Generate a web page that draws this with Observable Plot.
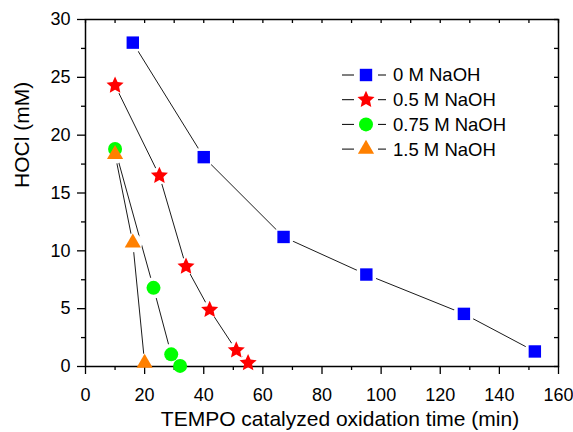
<!DOCTYPE html>
<html>
<head>
<meta charset="utf-8">
<script src="https://cdn.jsdelivr.net/npm/d3@7"></script>
<script src="https://cdn.jsdelivr.net/npm/@observablehq/plot@0.6"></script>
<style>
  html, body { margin: 0; padding: 0; background: #fff; }
  #wrap { position: relative; width: 573px; height: 432px; font-family: "Liberation Sans", Arial, sans-serif; }
  #legend { position: absolute; left: 0; top: 0; pointer-events: none; }
</style>
</head>
<body>
<div id="wrap"></div>
<script>
// ---- data ----
const seriesNames = ["0 M NaOH", "0.5 M NaOH", "0.75 M NaOH", "1.5 M NaOH"];
const time0   = [16, 40, 67, 95, 128, 152];
const hocl0   = [28.0, 18.1, 11.2, 7.95, 4.55, 1.3];
const time05  = [10, 25, 34, 42, 51, 55];
const hocl05  = [24.3, 16.5, 8.65, 4.9, 1.4, 0.3];
const time075 = [10, 23, 29, 32];
const hocl075 = [18.8, 6.8, 1.05, 0.05];
const time15  = [10, 16, 20];
const hocl15  = [18.35, 10.7, 0.3];
const xMajorTicks = [0, 20, 40, 60, 80, 100, 120, 140, 160];
const xMinorTicks = [10, 30, 50, 70, 90, 110, 130, 150];
const yMajorTicks = [0, 5, 10, 15, 20, 25, 30];
const yMinorTicks = [2.5, 7.5, 12.5, 17.5, 22.5, 27.5];
const xLabel = "TEMPO catalyzed oxidation time (min)";
const yLabel = "HOCl (mM)";

// ---- styles ----
const colors  = ["#0000ff", "#ff0000", "#00ff00", "#ff8000"];
const radii   = [7, 5.2, 7, 6];

// fatter five-pointed star (Origin style)
const fatStar = {
  draw(context, size) {
    const R = Math.sqrt(size / Math.PI) * 1.73, rin = R * 0.47;
    for (let k = 0; k < 10; ++k) {
      const a = -Math.PI / 2 + k * Math.PI / 5, rr = k % 2 ? rin : R;
      const px = rr * Math.cos(a), py = rr * Math.sin(a);
      k ? context.lineTo(px, py) : context.moveTo(px, py);
    }
    context.closePath();
  }
};
const symbols = [d3.symbolSquare, fatStar, d3.symbolCircle, d3.symbolTriangle];

const W = 573, H = 432, mL = 85, mR = 15, mT = 19, mB = 66;
const frameW = W - mL - mR, frameH = H - mT - mB;

const allTimes = [time0, time05, time075, time15];
const allHocl  = [hocl0, hocl05, hocl075, hocl15];
const rows = [];
seriesNames.forEach((s, i) => {
  allTimes[i].forEach((t, j) => rows.push({s, t, v: allHocl[i][j], r: radii[i]}));
});
const allX = [...xMajorTicks, ...xMinorTicks];
const allY = [...yMajorTicks, ...yMinorTicks];

const chart = Plot.plot({
  width: W, height: H,
  marginLeft: mL, marginRight: mR, marginTop: mT, marginBottom: mB,
  style: {fontFamily: '"Liberation Sans", Arial, sans-serif', fontSize: "18px", color: "black", background: "white"},
  x: {domain: [0, 160]},
  y: {domain: [0, 30]},
  r: {type: "identity"},
  color: {domain: seriesNames, range: colors},
  symbol: {domain: seriesNames, range: symbols},
  marks: [
    Plot.line(rows, {x: "t", y: "v", z: "s", stroke: "black", strokeWidth: 0.9}),
    Plot.dot(rows, {x: "t", y: "v", r: d => d.r + 3.5, fill: "white", symbol: () => "circle", stroke: null}),
    Plot.frame({stroke: "black", strokeWidth: 1.5}),
    Plot.axisX(xMajorTicks, {anchor: "bottom", tickSize: 8, tickPadding: 14, label: null, fontSize: 18, strokeWidth: 1.3}),
    Plot.axisX(xMinorTicks, {anchor: "bottom", tickSize: 4, tickFormat: () => "", label: null, strokeWidth: 1.3}),
    Plot.axisY(yMajorTicks, {anchor: "left", tickSize: 8, tickPadding: 7, label: null, fontSize: 18, strokeWidth: 1.3}),
    Plot.axisY(yMinorTicks, {anchor: "left", tickSize: 4, tickFormat: () => "", label: null, strokeWidth: 1.3}),
    Plot.tickX(allX, {x: d => d, insetBottom: frameH - 4, stroke: "black", strokeWidth: 1.3}),
    Plot.tickY(allY, {y: d => d, insetLeft: frameW - 4, stroke: "black", strokeWidth: 1.3}),
    Plot.dot(rows, {x: "t", y: "v", r: "r", fill: "s", symbol: "s", stroke: null}),
    Plot.text([xLabel], {frameAnchor: "bottom", dx: 18, dy: 59, fontSize: 21, fill: "black"}),
    Plot.text([yLabel], {frameAnchor: "left", dx: -63, dy: -5, rotate: -90, fontSize: 21, fill: "black"})
  ]
});
document.getElementById("wrap").appendChild(chart);

// ---- legend ----
const leg = d3.select("#wrap").append("svg")
  .attr("id", "legend").attr("width", W).attr("height", H);
seriesNames.forEach((s, i) => {
  const y = 75 + i * 24.7;
  const g = leg.append("g");
  g.append("line").attr("x1", 342).attr("x2", 354).attr("y1", y).attr("y2", y).attr("stroke", "black").attr("stroke-width", 1);
  g.append("line").attr("x1", 378).attr("x2", 386).attr("y1", y).attr("y2", y).attr("stroke", "black").attr("stroke-width", 1);
  g.append("path")
    .attr("d", d3.symbol(symbols[i], Math.PI * radii[i] * radii[i])())
    .attr("transform", `translate(366,${y})`)
    .attr("fill", colors[i]);
  g.append("text").attr("x", 393).attr("y", y).attr("dy", "0.35em")
    .attr("font-size", 18.5).attr("font-family", '"Liberation Sans", Arial, sans-serif')
    .attr("fill", "black").text(s);
});
</script>
</body>
</html>
